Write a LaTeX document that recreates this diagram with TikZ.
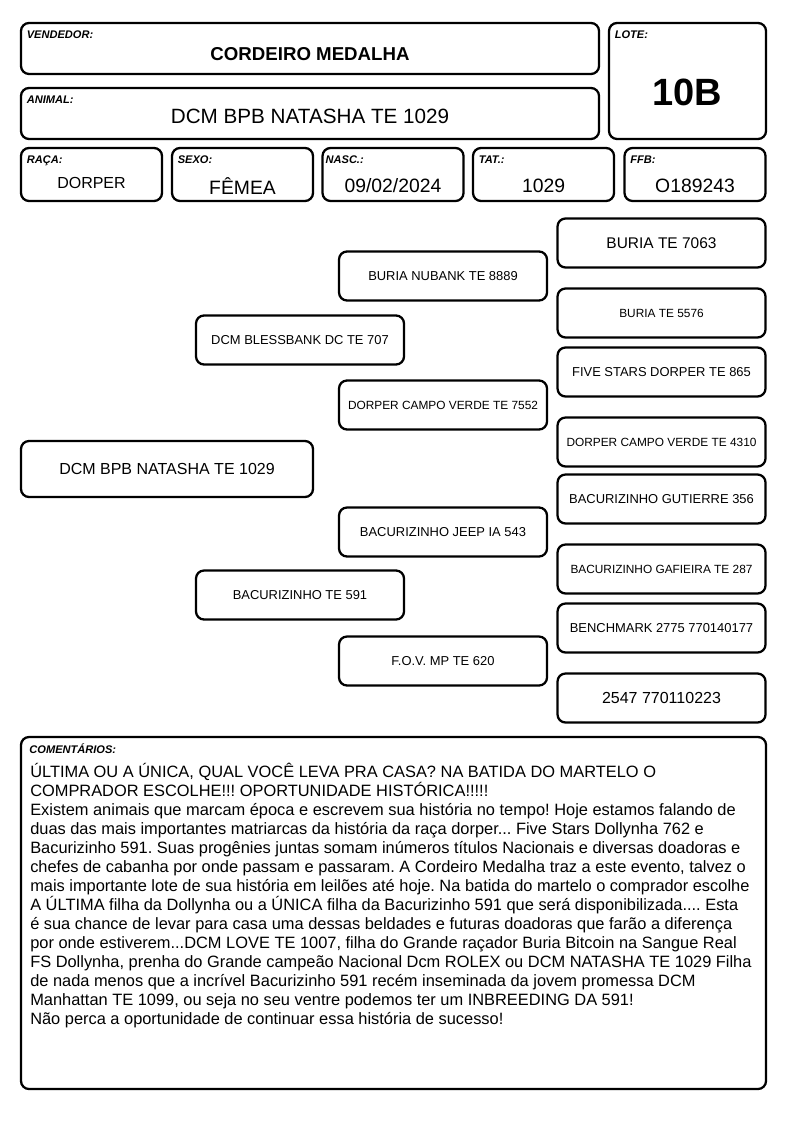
\documentclass[tikz,border=0pt]{standalone}
\usepackage{fontspec}
\setmainfont{Liberation Sans}
\usetikzlibrary{positioning}
\frenchspacing

\tikzset{
  frame/.style={draw, line width=1.7pt, rounded corners=6pt, inner sep=0pt},
  tag/.style={font=\fontsize{8.3pt}{10pt}\selectfont\bfseries\itshape, inner sep=0pt},
  rowbox/.style={frame, minimum width=105.75pt, minimum height=39.75pt},
  val/.style={font=\fontsize{14.5pt}{17pt}\selectfont, inner sep=0pt},
  pedbox/.style={frame, minimum width=156pt, minimum height=36.75pt, font=\fontsize{9.7pt}{11pt}\selectfont},
}

\begin{document}
\begin{tikzpicture}[x=0.75pt, y=-0.75pt]
\useasboundingbox (0,0) rectangle (794,1123);
% header
\node[frame, minimum width=433.5pt, minimum height=38.25pt] (vend) at (310,48.5) {};
\node[tag, below right=6.5pt and 5pt of vend.north west] (vendtag) {VENDEDOR:};
\node[font=\fontsize{14pt}{17pt}\selectfont\bfseries, inner sep=0pt] (vendval) at (310,54) {CORDEIRO MEDALHA};
\node[frame, minimum width=433.5pt, minimum height=38.25pt] (anim) at (310,113.5) {};
\node[tag, below right=6.5pt and 5pt of anim.north west] (animtag) {ANIMAL:};
\node[font=\fontsize{15.5pt}{18pt}\selectfont, inner sep=0pt] (animval) at (310,116.5) {DCM BPB NATASHA TE 1029};
\node[frame, minimum width=117.75pt, minimum height=87pt] (lote) at (687.5,81) {};
\node[tag, below right=6.5pt and 5pt of lote.north west] (lotetag) {LOTE:};
\node[font=\fontsize{28.5pt}{32pt}\selectfont\bfseries, inner sep=0pt] (loteval) at (687.5,92) {10B};
% data row
\node[rowbox] (raca) at (91.5,174.5) {};
\node[tag, below right=6.5pt and 5pt of raca.north west] (racatag) {RAÇA:};
\node[val, font=\fontsize{12pt}{14pt}\selectfont] (racaval) at (91.5,183) {DORPER};
\node[rowbox] (sexo) at (242.5,174.5) {};
\node[tag, below right=6.5pt and 5pt of sexo.north west] (sexotag) {SEXO:};
\node[val] (sexoval) at (242.5,186) {FÊMEA};
\node[rowbox] (nasc) at (393,174.5) {};
\node[tag, below right=6.5pt and 3pt of nasc.north west] (nasctag) {NASC.:};
\node[val] (nascval) at (393,186) {09/02/2024};
\node[rowbox] (tat) at (543.5,174.5) {};
\node[tag, below right=6.5pt and 5pt of tat.north west] (tattag) {TAT.:};
\node[val] (tatval) at (543.5,186) {1029};
\node[rowbox] (ffb) at (695,174.5) {};
\node[tag, below right=6.5pt and 5pt of ffb.north west] (ffbtag) {FFB:};
\node[val] (ffbval) at (695,186) {O189243};
% pedigree
\node[frame, minimum width=219pt, minimum height=42pt, font=\fontsize{12pt}{14pt}\selectfont] (self) at (167,469) {DCM BPB NATASHA TE 1029};
\node[pedbox] (sire) at (300,340) {DCM BLESSBANK DC TE 707};
\node[pedbox] (dam) at (300,595) {BACURIZINHO TE 591};
\node[pedbox] (ss) at (443,276) {BURIA NUBANK TE 8889};
\node[pedbox, font=\fontsize{8.9pt}{11pt}\selectfont] (sd) at (443,405) {DORPER CAMPO VERDE TE 7552};
\node[pedbox] (ds) at (443,532) {BACURIZINHO JEEP IA 543};
\node[pedbox] (dd) at (443,661) {F.O.V. MP TE 620};
\node[pedbox, font=\fontsize{11.6pt}{14pt}\selectfont] (sss) at (661.5,243) {BURIA TE 7063};
\node[pedbox, font=\fontsize{8.9pt}{11pt}\selectfont] (ssd) at (661.5,313) {BURIA TE 5576};
\node[pedbox] (sds) at (661.5,372) {FIVE STARS DORPER TE 865};
\node[pedbox, font=\fontsize{8.9pt}{11pt}\selectfont] (sdd) at (661.5,442) {DORPER CAMPO VERDE TE 4310};
\node[pedbox] (dss) at (661.5,499) {BACURIZINHO GUTIERRE 356};
\node[pedbox, font=\fontsize{8.9pt}{11pt}\selectfont] (dsd) at (661.5,569) {BACURIZINHO GAFIEIRA TE 287};
\node[pedbox] (dds) at (661.5,628) {BENCHMARK 2775 770140177};
\node[pedbox, font=\fontsize{12pt}{14pt}\selectfont] (ddd) at (661.5,698) {2547 770110223};
% comments
\node[frame, minimum width=558.75pt, minimum height=264pt] (com) at (393.5,913) {};
\node[tag, below right=5.5pt and 7pt of com.north west] (comtag) {COMENTÁRIOS:};
\node[align=left, inner sep=0pt, anchor=north west, font=\fontsize{12.3pt}{14.25pt}\selectfont] (comtext) at (30,763) {%
ÚLTIMA OU A ÚNICA, QUAL VOCÊ LEVA PRA CASA? NA BATIDA DO MARTELO O\\
COMPRADOR ESCOLHE!!! OPORTUNIDADE HISTÓRICA!!!!!\\
Existem animais que marcam época e escrevem sua história no tempo! Hoje estamos falando de\\
duas das mais importantes matriarcas da história da raça dorper... Five Stars Dollynha 762 e\\
Bacurizinho 591. Suas progênies juntas somam inúmeros títulos Nacionais e diversas doadoras e\\
chefes de cabanha por onde passam e passaram. A Cordeiro Medalha traz a este evento, talvez o\\
mais importante lote de sua história em leilões até hoje. Na batida do martelo o comprador escolhe\\
A ÚLTIMA filha da Dollynha ou a ÚNICA filha da Bacurizinho 591 que será disponibilizada.... Esta\\
é sua chance de levar para casa uma dessas beldades e futuras doadoras que farão a diferença\\
por onde estiverem...DCM LOVE TE 1007, filha do Grande raçador Buria Bitcoin na Sangue Real\\
FS Dollynha, prenha do Grande campeão Nacional Dcm ROLEX ou DCM NATASHA TE 1029 Filha\\
de nada menos que a incrível Bacurizinho 591 recém inseminada da jovem promessa DCM\\
Manhattan TE 1099, ou seja no seu ventre podemos ter um INBREEDING DA 591!\\
Não perca a oportunidade de continuar essa história de sucesso!};
\end{tikzpicture}
\end{document}
